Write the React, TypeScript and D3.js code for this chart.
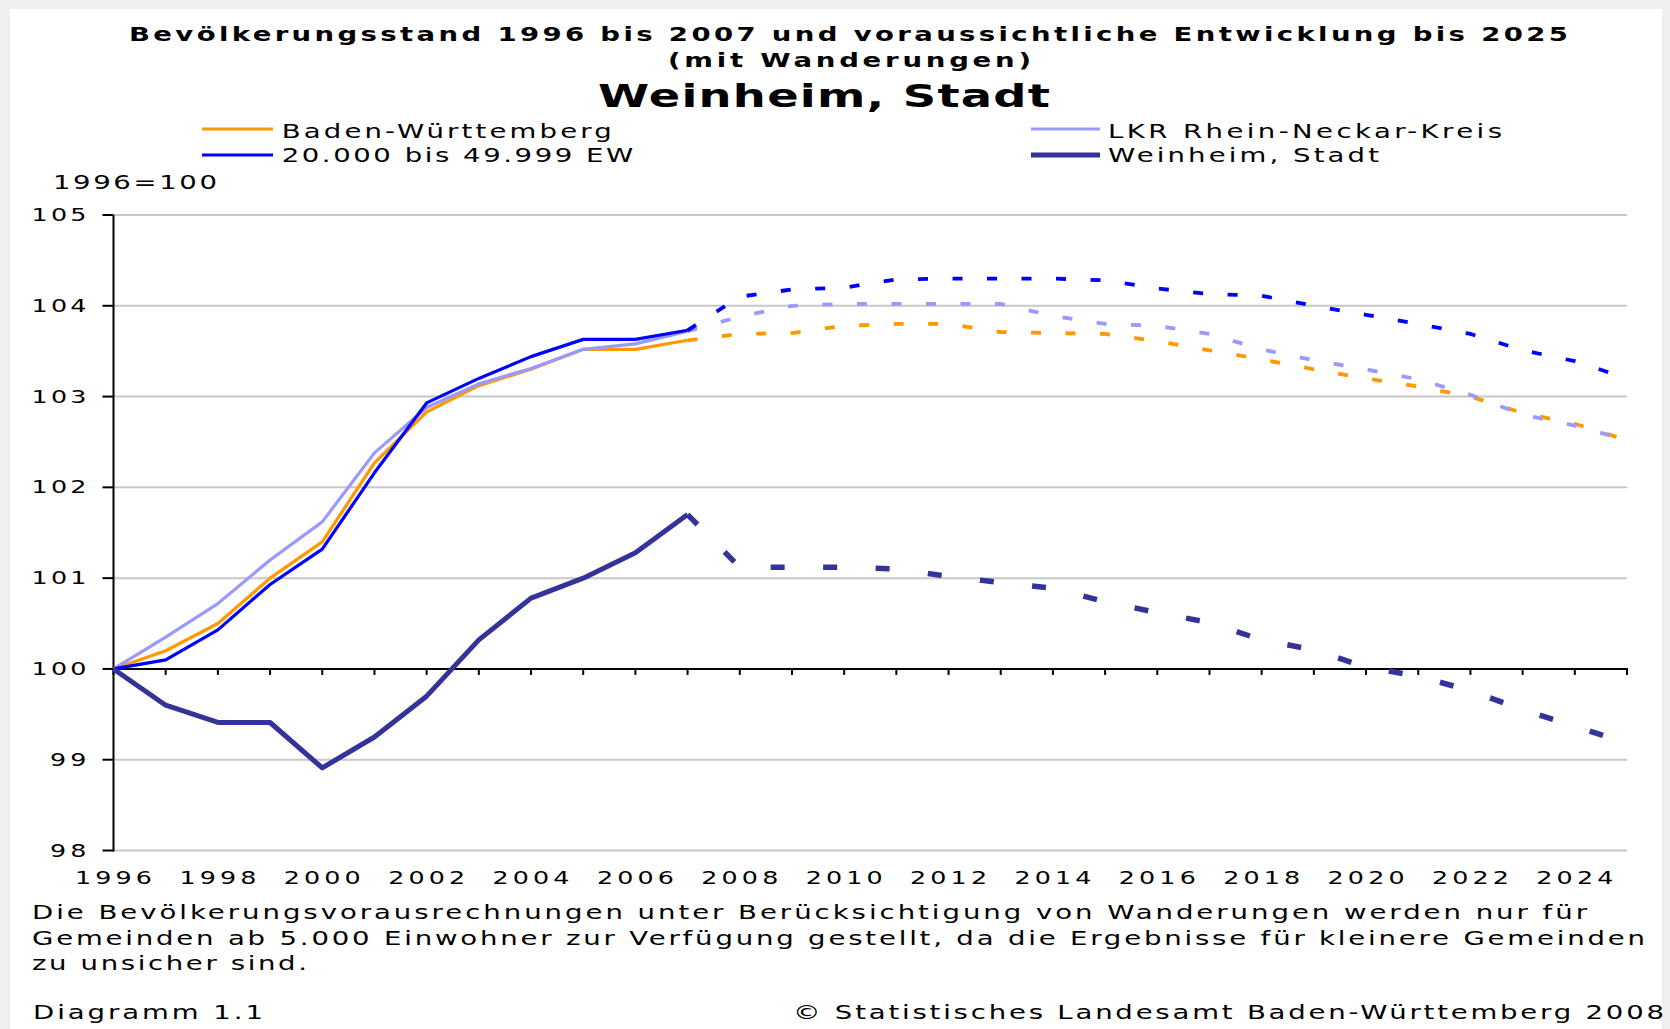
import React from "react";
import * as d3 from "d3";

// Jahre
const histYears = [1996, 1997, 1998, 1999, 2000, 2001, 2002, 2003, 2004, 2005, 2006, 2007];
const projYears = [2007, 2008, 2009, 2010, 2011, 2012, 2013, 2014, 2015, 2016, 2017, 2018, 2019, 2020, 2021, 2022, 2023, 2024, 2025];

// Baden-Württemberg
const bwHist = [100, 100.2, 100.5, 101.0, 101.4, 102.27, 102.83, 103.12, 103.3, 103.52, 103.52, 103.62];
const bwProj = [103.62, 103.69, 103.7, 103.78, 103.8, 103.8, 103.71, 103.7, 103.69, 103.61, 103.51, 103.41, 103.3, 103.2, 103.11, 103.0, 102.82, 102.7, 102.52];

// LKR Rhein-Neckar-Kreis
const lkrHist = [100, 100.35, 100.72, 101.2, 101.62, 102.38, 102.88, 103.14, 103.31, 103.52, 103.58, 103.72];
const lkrProj = [103.72, 103.88, 104.0, 104.02, 104.02, 104.02, 104.02, 103.89, 103.8, 103.78, 103.69, 103.52, 103.4, 103.3, 103.19, 103.02, 102.8, 102.68, 102.52];

// 20.000 bis 49.999 EW
const ewHist = [100, 100.1, 100.43, 100.93, 101.32, 102.16, 102.93, 103.2, 103.44, 103.63, 103.63, 103.73];
const ewProj = [103.73, 104.1, 104.18, 104.2, 104.29, 104.3, 104.3, 104.3, 104.28, 104.19, 104.13, 104.11, 104.0, 103.9, 103.8, 103.69, 103.51, 103.39, 103.2];

// Weinheim, Stadt
const whHist = [100, 99.6, 99.41, 99.41, 98.91, 99.25, 99.7, 100.32, 100.78, 101.0, 101.28, 101.7];
const whProj = [101.7, 101.12, 101.12, 101.12, 101.1, 101.02, 100.95, 100.89, 100.74, 100.62, 100.51, 100.32, 100.21, 100.02, 99.92, 99.76, 99.55, 99.37, 99.18];

const yTicks = [98, 99, 100, 101, 102, 103, 104, 105];
const xLabels = [1996, 1998, 2000, 2002, 2004, 2006, 2008, 2010, 2012, 2014, 2016, 2018, 2020, 2022, 2024];

const series = [
  { name: "Baden-Württemberg", color: "#FF9900", hist: bwHist, proj: bwProj, w: 3.2, pw: 3.8, dash: "10 24.5" },
  { name: "LKR Rhein-Neckar-Kreis", color: "#9999FF", hist: lkrHist, proj: lkrProj, w: 3.2, pw: 3.8, dash: "10 24.5" },
  { name: "20.000 bis 49.999 EW", color: "#0000FF", hist: ewHist, proj: ewProj, w: 3.2, pw: 3.8, dash: "10 24.5" },
  { name: "Weinheim, Stadt", color: "#333399", hist: whHist, proj: whProj, w: 5, pw: 5.5, dash: "14 38.5" },
];

const footnote = [
  "Die Bevölkerungsvorausrechnungen unter Berücksichtigung von Wanderungen werden nur für",
  "Gemeinden ab 5.000 Einwohner zur Verfügung gestellt, da die Ergebnisse für kleinere Gemeinden",
  "zu unsicher sind.",
];

const SX = 1.45;
const FONT = "DejaVu Sans, Verdana, sans-serif";

// stretched text with a fixed overall width
const T = ({ x, y, w, anchor = "start", size = 19, weight = "normal", children }: any) => (
  <text
    transform={`translate(${x},${y}) scale(${SX},1)`}
    textLength={w / SX}
    lengthAdjust="spacing"
    textAnchor={anchor}
    fontSize={size}
    fontWeight={weight}
    fontFamily={FONT}
    fill="#000"
  >
    {children}
  </text>
);

export default function App() {
  const x = d3.scaleLinear().domain([1996, 2025]).range([113.5, 1627]);
  const y = d3.scaleLinear().domain([98, 105]).range([850.5, 215]);
  const allYears = d3.range(1996, 2026);

  const line = (yrs: number[]) =>
    d3
      .line<number>()
      .x((d, i) => x(yrs[i]))
      .y((d) => y(d));

  return (
    <div style={{ position: "absolute", left: 0, top: 0 }}>
      <svg width={1670} height={1029} style={{ display: "block" }}>
        <rect x={0} y={0} width={1670} height={1029} fill="#efefef" />
        <rect x={10} y={9} width={1652} height={1020} fill="#fff" />

        <T x={848.5} y={40.7} w={1439} anchor="middle" weight="bold">
          Bevölkerungsstand 1996 bis 2007 und voraussichtliche Entwicklung bis 2025
        </T>
        <T x={849.5} y={66.5} w={363} anchor="middle" weight="bold">
          (mit Wanderungen)
        </T>
        <T x={824} y={106.5} w={452} anchor="middle" weight="bold" size={32}>
          Weinheim, Stadt
        </T>

        {/* legend */}
        <line x1={202} x2={273} y1={129} y2={129} stroke={series[0].color} strokeWidth={3.2} />
        <T x={281.7} y={137.7} w={330}>{series[0].name}</T>
        <line x1={1031} x2={1100} y1={129} y2={129} stroke={series[1].color} strokeWidth={3.2} />
        <T x={1108} y={137.7} w={394}>{series[1].name}</T>
        <line x1={202} x2={273} y1={155} y2={155} stroke={series[2].color} strokeWidth={3.2} />
        <T x={281.7} y={162.3} w={351.6}>{series[2].name}</T>
        <line x1={1031} x2={1100} y1={155} y2={155} stroke={series[3].color} strokeWidth={5} />
        <T x={1108} y={162.3} w={271}>{series[3].name}</T>

        <T x={53} y={189} w={164}>1996=100</T>

        {/* grid */}
        {yTicks
          .filter((t) => t !== 100)
          .map((t) => (
            <line key={t} x1={x(1996)} x2={x(2025)} y1={y(t)} y2={y(t)} stroke="#c8c8c8" strokeWidth={2} />
          ))}

        {/* y axis */}
        <line x1={x(1996)} x2={x(1996)} y1={y(105)} y2={y(98) + 1} stroke="#000" strokeWidth={2} />
        {yTicks.map((t) => (
          <g key={t}>
            <line x1={x(1996) - 11} x2={x(1996)} y1={y(t)} y2={y(t)} stroke="#000" strokeWidth={2} />
            <T x={86.5} y={y(t) + 6} w={String(t).length * 18.3} anchor="end" size={17.5}>
              {t}
            </T>
          </g>
        ))}

        {/* x axis at 100 */}
        <line x1={x(1996)} x2={x(2025) + 1} y1={y(100)} y2={y(100)} stroke="#000" strokeWidth={2} />
        {allYears.map((yr) => (
          <line key={yr} x1={x(yr)} x2={x(yr)} y1={y(100)} y2={y(100) + 6} stroke="#000" strokeWidth={2} />
        ))}
        {xLabels.map((yr) => (
          <T key={yr} x={x(yr)} y={884} w={77} anchor="middle" size={17.5}>
            {yr}
          </T>
        ))}

        {/* series */}
        {series.map((s) => (
          <g key={s.name}>
            <path d={line(histYears)(s.hist) || ""} fill="none" stroke={s.color} strokeWidth={s.w} strokeLinejoin="round" />
            <path
              d={line(projYears)(s.proj) || ""}
              fill="none"
              stroke={s.color}
              strokeWidth={s.pw}
              strokeDasharray={s.dash}
            />
          </g>
        ))}

        {/* footnote */}
        <T x={32} y={919} w={1555}>{footnote[0]}</T>
        <T x={32} y={944.5} w={1613}>{footnote[1]}</T>
        <T x={32} y={970} w={275}>{footnote[2]}</T>
        <T x={33} y={1019} w={230}>Diagramm 1.1</T>
        <T x={1664} y={1019} w={871} anchor="end">© Statistisches Landesamt Baden-Württemberg 2008</T>
      </svg>
    </div>
  );
}
